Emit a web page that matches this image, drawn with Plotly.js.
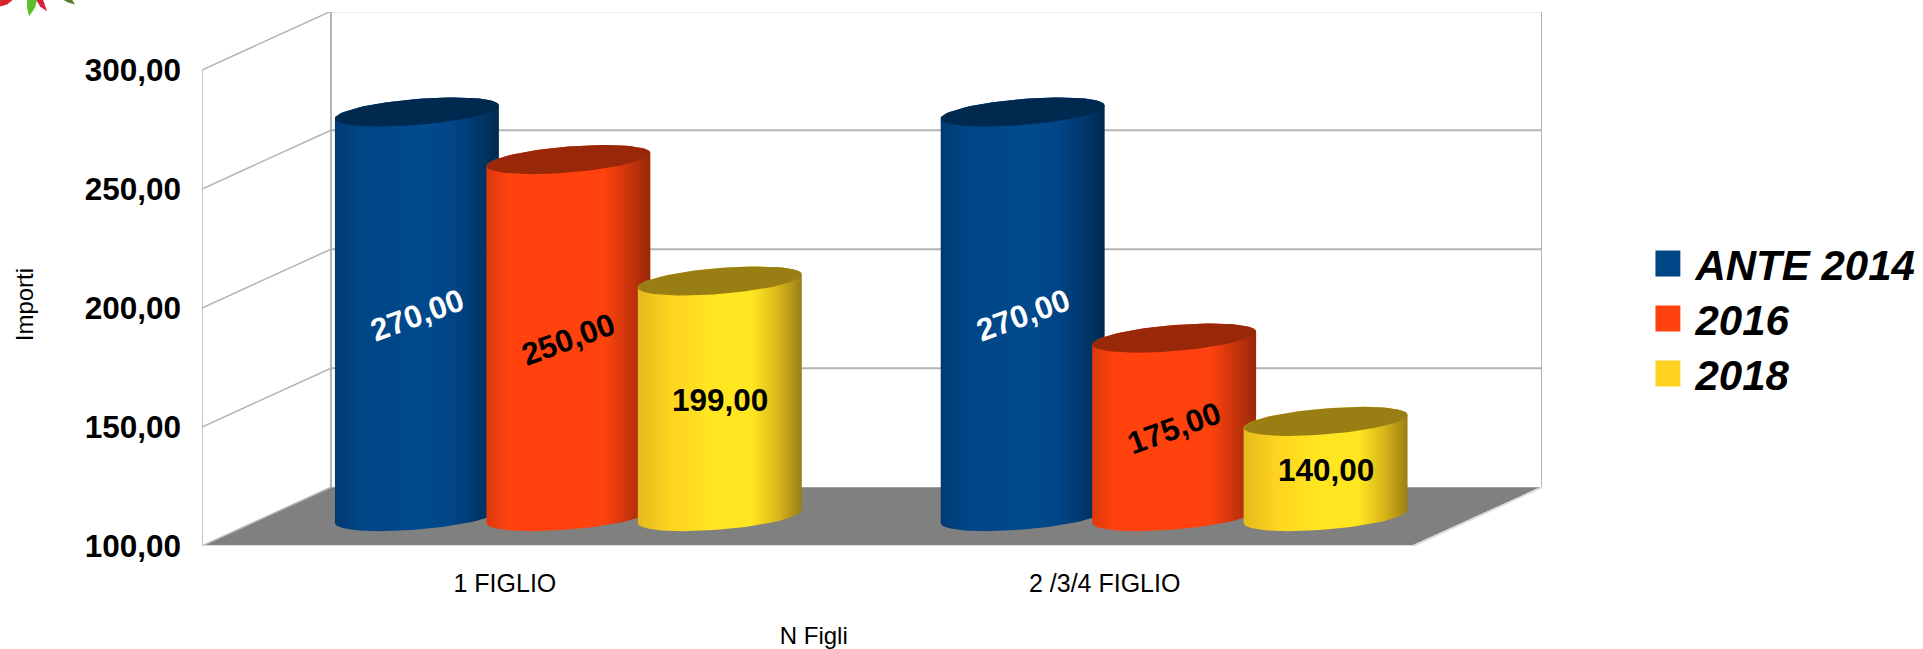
<!DOCTYPE html>
<html>
<head>
<meta charset="utf-8">
<script src="https://cdn.plot.ly/plotly-3.0.0.min.js"></script>
<style>html,body{margin:0;padding:0;background:#fff}</style>
</head>
<body>
<div id="chart" style="width:1923px;height:649px"></div>
<script>
// ---- data ----
const categories = ['1 FIGLIO', '2 /3/4 FIGLIO'];
const seriesNames = ['ANTE 2014', '2016', '2018'];
const ante2014 = [270, 270];
const y2016 = [250, 175];
const y2018 = [199, 140];
const yTicks = [100, 150, 200, 250, 300];

// ---- style ----
const seriesValues = [ante2014, y2016, y2018];
const swatch = ['#004586', '#ff420e', '#ffd320'];
const topColor = ['#00294f', '#992809', '#997e13'];
const gradients = [
  [[0,'#003a72'],[0.15,'#004586'],[0.55,'#004a8e'],[0.72,'#004586'],[0.86,'#00396e'],[1,'#00294f']],
  [[0,'#dc3a0c'],[0.14,'#ff420e'],[0.72,'#ff420e'],[0.86,'#cc350b'],[1,'#992809']],
  [[0,'#e3bb1c'],[0.2,'#ffd320'],[0.45,'#ffe620'],[0.7,'#ffe620'],[0.86,'#d9b41b'],[1,'#997e13']]
];
const labelColor = ['#ffffff', '#000000', '#000000'];
const labelAngle = [-20, -20, 0];
const fontFam = '"Liberation Sans", Arial, sans-serif';
const grid = '#b3b3b3';

// ---- geometry of the pseudo-3D frame, in pixels of the page ----
const W = 1923, H = 649;
const L = 202, R = 1542.5, T = 12.4, B = 546.4;
const pxPerUnit = 2.38;          // value scale
const groupPx = 606;             // distance between the two groups of cylinders
const midX0 = 568.5;             // centre of the first group on the mid-depth plane
const midY100 = 517;             // value 100 on the mid-depth plane
const x2Range = [(L - midX0) / groupPx, (R - midX0) / groupPx];
const y2Low = 100 - (B - midY100) / pxPerUnit;
const y2Range = [y2Low, y2Low + (B - T) / pxPerUnit];
const depthX = 129 / groupPx;    // full depth of the box in x2 units
const halfDepthY = (B - midY100) / pxPerUnit; // half depth in y2 units

const stepX = 0.25;              // centre-to-centre of cylinders in a group
const cylW = 82 / groupPx;       // half width of a cylinder
const shear = 6.5 / pxPerUnit;   // tilt of the elliptical caps
const capR = 13 / pxPerUnit;     // vertical radius of the caps
const steps = 40;

function capPoint(cx, cy, t) {
  return [cx + cylW * Math.cos(t), cy + shear * Math.cos(t) + capR * Math.sin(t)];
}
function bodyPath(cx, v) {
  const xs = [], ys = [];
  for (let i = 0; i <= steps; i++) { // top, far side
    const p = capPoint(cx, v, Math.PI * i / steps);
    xs.push(p[0]); ys.push(p[1]);
  }
  for (let i = 0; i <= steps; i++) { // bottom, near side
    const p = capPoint(cx, 100, Math.PI + Math.PI * i / steps);
    xs.push(p[0]); ys.push(p[1]);
  }
  xs.push(xs[0]); ys.push(ys[0]);
  return {xs, ys};
}
function capPath(cx, v) {
  const xs = [], ys = [];
  for (let i = 0; i <= 2 * steps; i++) {
    const p = capPoint(cx, v, Math.PI * i / steps);
    xs.push(p[0]); ys.push(p[1]);
  }
  return {xs, ys};
}

const traces = [];
// empty trace keeps the front-plane axes alive
traces.push({type:'scatter', x:[], y:[], xaxis:'x', yaxis:'y', showlegend:false, hoverinfo:'skip'});

// real bars (inside the cylinders), which also feed the legend
seriesNames.forEach((name, s) => {
  traces.push({
    type:'bar', name:name, xaxis:'x2', yaxis:'y2',
    x: categories.map((c, g) => g + (s - 1) * stepX),
    y: seriesValues[s].map(v => v - 100),
    base: 100,
    width: 2 * cylW * 0.8,
    marker:{color:swatch[s]},
    customdata: seriesValues[s],
    hovertemplate: name + ': %{customdata}<extra></extra>'
  });
});

const annotations = [];
seriesNames.forEach((name, s) => {
  seriesValues[s].forEach((v, g) => {
    const cx = g + (s - 1) * stepX;
    const b = bodyPath(cx, v), c = capPath(cx, v);
    traces.push({
      type:'scatter', mode:'lines', x:b.xs, y:b.ys, xaxis:'x2', yaxis:'y2',
      fill:'toself', line:{width:0, color:swatch[s]},
      fillgradient:{type:'horizontal', colorscale:gradients[s]},
      showlegend:false, hoverinfo:'skip'
    });
    traces.push({
      type:'scatter', mode:'lines', x:c.xs, y:c.ys, xaxis:'x2', yaxis:'y2',
      fill:'toself', fillcolor:topColor[s], line:{width:0, color:topColor[s]},
      showlegend:false, hoverinfo:'skip'
    });
    annotations.push({
      xref:'x2', yref:'y2', x:cx, y:(v + 100) / 2 - 0.4, showarrow:false,
      text: v.toFixed(2).replace('.', ','), textangle: labelAngle[s],
      font:{family:fontFam, size:31.5, color:labelColor[s], weight:'bold'}
    });
  });
});

// ---- walls and floor ----
const shapes = [];
const fx0 = x2Range[0], bx0 = x2Range[0] + depthX, bx1 = x2Range[1], fx1 = x2Range[1] - depthX;
const fy = v => v - halfDepthY, by = v => v + halfDepthY;
shapes.push({type:'path', xref:'x2', yref:'y2', layer:'below',
  path:`M${fx0},${fy(100)}L${bx0},${by(100)}L${bx1},${by(100)}L${fx1},${fy(100)}Z`,
  fillcolor:'#808080', line:{width:0}});
yTicks.forEach(v => {
  if (v > 100) shapes.push({type:'line', xref:'x2', yref:'y2', layer:'below',
    x0:bx0, y0:by(v), x1:bx1, y1:by(v), line:{color:grid, width:2}});
  shapes.push({type:'line', xref:'x2', yref:'y2', layer:'below',
    x0:fx0, y0:fy(v), x1:bx0, y1:by(v), line:{color:grid, width:1.5}});
});
[[fx0, fy(100), fx0, fy(300)], [bx0, by(100), bx0, by(300)], [bx1, by(100), bx1, by(300)],
 [fx0, fy(100), fx1, fy(100)], [fx1, fy(100), bx1, by(100)]].forEach((l, i) => {
  shapes.push({type:'line', xref:'x2', yref:'y2', layer:'below',
    x0:l[0], y0:l[1], x1:l[2], y1:l[3],
    line:{color: i > 2 ? '#dddddd' : grid, width: i === 0 ? 1.5 : 2}});
});

// ---- fragment of the logo cropped by the top edge ----
const pxX = x => (x - L) / (R - L), pxY = y => (B - y) / (B - T);
const petal = (pts, color) => ({type:'path', xref:'paper', yref:'paper',
  path:'M' + pts.map(p => pxX(p[0]) + ',' + pxY(p[1])).join('L') + 'Z', fillcolor:color, line:{width:0}});
shapes.push(petal([[0,7],[7,5],[13,0],[0,0]], '#d8232a'));
shapes.push(petal([[27,0],[37,0],[35,8],[29,17],[27,8]], '#5cbf2a'));
shapes.push(petal([[36,0],[43,0],[47,12],[40,7]], '#d8233a'));
shapes.push(petal([[63,0],[72,0],[75,5],[68,3]], '#55802e'));

const layout = {
  width:W, height:H, autosize:false,
  margin:{l:L, r:W - R, t:T, b:H - B, pad:0, autoexpand:false},
  paper_bgcolor:'#ffffff', plot_bgcolor:'rgba(0,0,0,0)',
  barmode:'overlay',
  font:{family:fontFam, color:'#000000'},
  // front-plane axes: these carry the tick labels and titles
  xaxis:{
    domain:[0, (1426 - L) / (R - L)], range:[(L - 505) / 600, (1426 - 505) / 600],
    tickmode:'array', tickvals:categories.map((c, i) => i), ticktext:categories,
    tickfont:{family:fontFam, size:25, color:'#000000'},
    showgrid:false, zeroline:false, showline:false, ticks:'', ticklabelstandoff:20,
    automargin:true,
    title:{text:'N Figli', font:{family:fontFam, size:24, color:'#000000'}, standoff:31},
    anchor:'y', fixedrange:true
  },
  yaxis:{
    domain:[0, (B - 63.6) / (B - T)], range:[100, 100 + (B - 63.6) / pxPerUnit],
    tickmode:'array', tickvals:yTicks, ticktext:yTicks.map(v => v.toFixed(2).replace('.', ',')),
    tickfont:{family:fontFam, size:31.5, color:'#000000', weight:'bold'},
    showgrid:false, zeroline:false, showline:false, ticks:'', ticklabelstandoff:20,
    automargin:true,
    title:{text:'Importi', font:{family:fontFam, size:24, color:'#000000'}, standoff:44},
    anchor:'x', fixedrange:true
  },
  // mid-depth axes: these place the cylinders and the box
  xaxis2:{domain:[0,1], range:x2Range, visible:false, anchor:'y2', fixedrange:true},
  yaxis2:{domain:[0,1], range:y2Range, visible:false, anchor:'x2', fixedrange:true},
  legend:{
    x:(1656 - L) / (R - L), xanchor:'left', y:(B - 321.5) / (B - T), yanchor:'middle',
    font:{family:fontFam, size:42, color:'#000000', weight:'bold', style:'italic'},
    itemwidth:30, bgcolor:'rgba(0,0,0,0)', borderwidth:0, itemclick:false, itemdoubleclick:false
  },
  shapes:shapes, annotations:annotations, showlegend:true
};

Plotly.newPlot('chart', traces, layout, {displayModeBar:false, responsive:false}).then(gd => {
  // legend swatches of the reference are about 26px square, entries 55px apart
  gd.querySelectorAll('.legendpoints path').forEach(p => p.setAttribute('d', 'M4.9,13H-21.1V-13H4.9Z'));
  let firstY = null;
  gd.querySelectorAll('.legend .traces').forEach((g, i) => {
    const m = /translate\(\s*([-\d.]+)[ ,]+([-\d.]+)\s*\)/.exec(g.getAttribute('transform') || '');
    if (!m) return;
    if (firstY === null) firstY = +m[2];
    g.setAttribute('transform', `translate(${m[1]},${firstY + 55 * i})`);
  });
});
</script>
</body>
</html>
